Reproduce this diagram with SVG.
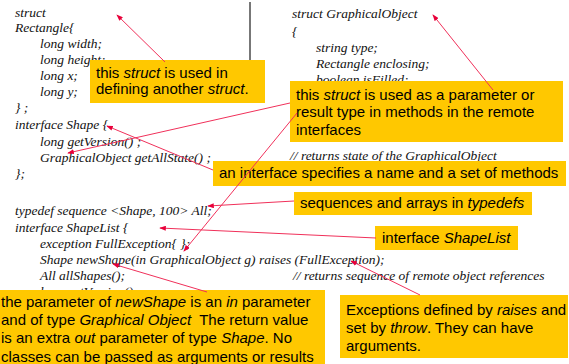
<svg xmlns="http://www.w3.org/2000/svg" width="569" height="364" viewBox="0 0 569 364">
  <style>
    .code { font-family: "Liberation Serif", "Times New Roman", serif; font-style: italic; font-size: 13.5px; fill: #111; }
    .note rect { fill: #FFC800; }
    .note text { font-family: "Liberation Sans", Arial, sans-serif; font-size: 15px; fill: #000; }
    .it { font-style: italic; }
    .conn line { stroke: #f0305a; stroke-width: 1; fill: none; }
  </style>
  <defs>
    <marker id="arrow" viewBox="0 0 8 6" refX="7" refY="3" markerWidth="7" markerHeight="5" orient="auto" markerUnits="userSpaceOnUse">
      <path d="M0,0 L8,3 L0,6 Z" fill="#e8003a"/>
    </marker>
  </defs>

  <rect x="0" y="0" width="569" height="364" fill="#fff"/>

  <!-- IDL source, left column -->
  <g id="code-left" class="code">
    <text x="15" y="17">struct</text>
    <text x="15" y="32">Rectangle{</text>
    <text x="40" y="48">long width;</text>
    <text x="40" y="64">long height;</text>
    <text x="40" y="80">long x;</text>
    <text x="40" y="96">long y;</text>
    <text x="15" y="112">} ;</text>
    <text x="15" y="129">interface Shape {</text>
    <text x="40" y="146">long getVersion() ;</text>
    <text x="40" y="162">GraphicalObject getAllState() ;</text>
    <text x="15" y="178">};</text>
    <text x="15" y="215">typedef sequence &lt;Shape, 100&gt; All;</text>
    <text x="15" y="232">interface ShapeList {</text>
    <text x="40" y="248">exception FullException{ };</text>
    <text x="40" y="264">Shape newShape(in GraphicalObject g) raises (FullException);</text>
    <text x="40" y="280">All allShapes();</text>
    <text x="40" y="296">long getVersion();</text>
  </g>

  <!-- IDL source, right column -->
  <g id="code-right" class="code">
    <text x="292" y="18">struct GraphicalObject</text>
    <text x="292" y="36">{</text>
    <text x="316" y="52">string type;</text>
    <text x="316" y="68">Rectangle enclosing;</text>
    <text x="316" y="84">boolean isFilled;</text>
    <text x="290" y="160">// returns state of the GraphicalObject</text>
    <text x="293" y="280">// returns sequence of remote object references</text>
  </g>

  <!-- column divider -->
  <line id="divider" x1="250" y1="2" x2="250" y2="62" stroke="#777" stroke-width="2"/>

  <!-- callout notes -->
  <g id="note-struct" class="note">
    <rect x="90" y="60" width="175" height="43"/>
    <text x="96" y="78">this <tspan class="it">struct</tspan> is used in</text>
    <text x="96" y="94">defining another <tspan class="it">struct</tspan>.</text>
  </g>
  <g id="note-param" class="note">
    <rect x="290" y="81" width="273" height="61"/>
    <text x="296" y="100">this <tspan class="it">struct</tspan> is used as a parameter or</text>
    <text x="296" y="117">result type in methods in the remote</text>
    <text x="296" y="135">interfaces</text>
  </g>
  <g id="note-interface" class="note">
    <rect x="213" y="161" width="353" height="25"/>
    <text x="219" y="178">an interface specifies a name and a set of methods</text>
  </g>
  <g id="note-typedef" class="note">
    <rect x="294" y="192" width="238" height="23"/>
    <text x="300" y="208">sequences and arrays in <tspan class="it">typedefs</tspan></text>
  </g>
  <g id="note-shapelist" class="note">
    <rect x="375" y="226" width="143" height="24"/>
    <text x="382" y="243">interface <tspan class="it">ShapeList</tspan></text>
  </g>
  <g id="note-newshape" class="note">
    <rect x="0" y="290" width="325" height="74"/>
    <text x="1" y="307">the parameter of <tspan class="it">newShape</tspan> is an <tspan class="it">in</tspan> parameter</text>
    <text x="1" y="325">and of type <tspan class="it">Graphical Object</tspan>&#160; The return value</text>
    <text x="1" y="343">is an extra <tspan class="it">out</tspan> parameter of type <tspan class="it">Shape</tspan>. No</text>
    <text x="1" y="362">classes can be passed as arguments or results</text>
  </g>
  <g id="note-exceptions" class="note">
    <rect x="340" y="295" width="228" height="63"/>
    <text x="346" y="315">Exceptions defined by <tspan class="it">raises</tspan> and</text>
    <text x="346" y="333">set by <tspan class="it">throw</tspan>. They can have</text>
    <text x="346" y="351">arguments.</text>
  </g>

  <!-- connectors from notes to code -->
  <g id="connectors" class="conn">
    <line x1="165" y1="62" x2="117" y2="15" marker-end="url(#arrow)"/>
    <line x1="493" y1="90" x2="433" y2="15" marker-end="url(#arrow)"/>
    <line x1="290" y1="103" x2="68" y2="153" marker-end="url(#arrow)"/>
    <line x1="297" y1="113" x2="184" y2="251" marker-end="url(#arrow)"/>
    <line x1="213" y1="170" x2="107" y2="126" marker-end="url(#arrow)"/>
    <line x1="294" y1="201" x2="208" y2="206" marker-end="url(#arrow)"/>
    <line x1="376" y1="238" x2="160" y2="228" marker-end="url(#arrow)"/>
    <line x1="207" y1="292" x2="113" y2="264" marker-end="url(#arrow)"/>
    <line x1="420" y1="295" x2="351" y2="261" marker-end="url(#arrow)"/>
  </g>
</svg>
